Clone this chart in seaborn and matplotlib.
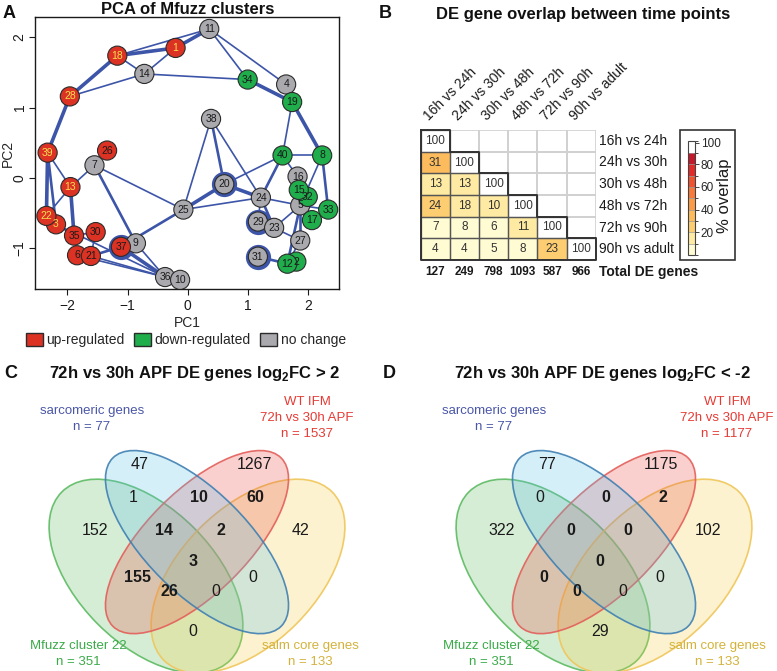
"""
plot.py - Panel gabungan: PCA cluster Mfuzz, overlap DE gene antar time point,
dan dua diagram Venn 4 set (log2FC > 2 dan log2FC < -2).
"""

import numpy as np
import pandas as pd
import matplotlib
matplotlib.use("Agg")
import matplotlib.pyplot as plt
import seaborn as sns
from matplotlib.colors import ListedColormap, BoundaryNorm, to_rgba
from matplotlib.patches import Ellipse, Patch, Rectangle

W, H = 777, 671

# ---------------- Data panel A (PCA cluster Mfuzz) ----------------
CLUSTER_ID = list(range(1, 41))
PC1 = [-0.20, 1.81, -2.19, 1.64, 1.875, -1.84, -1.55, 2.24, -0.86, -0.125,
       0.36, 1.66, -1.95, -0.72, 1.85, 1.83, 2.07, -1.17, 1.74, 0.61,
       -1.61, -2.35, 1.44, 1.22, -0.07, -1.34, 1.875, -1.96, 1.17, -1.53,
       1.17, 2.00, 2.34, 1.00, -1.89, -0.375, -1.11, 0.39, -2.33, 1.58]
PC2 = [1.85, -1.19, -0.66, 1.33, -0.39, -1.10, 0.18, 0.32, -0.93, -1.45,
       2.12, -1.22, -0.13, 1.48, -0.17, 0.02, -0.60, 1.74, 1.08, -0.09,
       -1.11, -0.54, -0.71, -0.28, -0.45, 0.39, -0.89, 1.16, -0.62, -0.77,
       -1.12, -0.27, -0.45, 1.40, -0.82, -1.41, -0.98, 0.84, 0.36, 0.32]
UP = [1, 3, 6, 13, 18, 21, 22, 26, 28, 30, 35, 37, 39]
DOWN = [2, 8, 12, 15, 17, 19, 32, 33, 34, 40]
# edge network: (cluster a, cluster b, bobot)
EDGES = [(18, 1, 3), (18, 11, 1), (1, 11, 3), (18, 14, 1), (14, 1, 1), (28, 18, 3),
         (28, 14, 1), (14, 34, 1), (11, 34, 1), (11, 4, 1), (4, 19, 1), (34, 19, 3),
         (19, 40, 1), (19, 8, 3), (40, 8, 1), (8, 5, 1), (8, 33, 2), (40, 24, 2),
         (40, 20, 1), (40, 16, 1), (38, 20, 2), (38, 25, 1), (38, 24, 1), (20, 25, 3),
         (20, 24, 3), (25, 24, 1), (24, 5, 1), (24, 23, 2), (24, 29, 1), (29, 23, 3),
         (23, 5, 1), (23, 27, 1), (5, 27, 2), (27, 12, 1), (5, 12, 2), (31, 12, 2),
         (17, 5, 1), (5, 33, 1), (16, 5, 1), (15, 5, 1), (32, 5, 1), (15, 17, 1),
         (39, 28, 3), (39, 22, 3), (39, 13, 1), (39, 3, 2), (13, 7, 1), (13, 22, 1),
         (13, 35, 3), (7, 25, 1), (7, 9, 2), (25, 37, 2), (22, 3, 3), (22, 35, 1),
         (3, 35, 1), (35, 30, 1), (35, 6, 1), (6, 21, 3), (21, 37, 2), (6, 36, 1),
         (21, 36, 1), (37, 9, 3), (9, 36, 1), (36, 10, 1), (37, 36, 3), (30, 21, 1),
         (3, 36, 1)]

# ---------------- Data panel B (overlap DE gene) ----------------
COMPARISONS = ["16h vs 24h", "24h vs 30h", "30h vs 48h",
               "48h vs 72h", "72h vs 90h", "90h vs adult"]
OVERLAP = [[100],
           [31, 100],
           [13, 13, 100],
           [24, 18, 10, 100],
           [7, 8, 6, 11, 100],
           [4, 4, 5, 8, 23, 100]]
TOTAL_DE = [127, 249, 798, 1093, 587, 966]

# ---------------- Data panel C & D (Venn) ----------------
REGIONS = ["b", "r", "gb", "br", "ry", "g", "gbr", "bry", "y",
           "gbry", "gr", "by", "gry", "gby", "gy"]
COUNTS_UP = [47, 1267, 1, 10, 60, 152, 14, 2, 42, 3, 155, 0, 26, 0, 0]
COUNTS_DOWN = [77, 1175, 0, 0, 2, 322, 0, 0, 102, 0, 0, 0, 0, 0, 29]
SIZES_UP = [77, 1537, 351, 133]
SIZES_DOWN = [77, 1177, 351, 133]

# ---------------- Style ----------------
NODE_COLORS = {"up": "#dc3223", "down": "#1fae4b", "none": "#a9a9ae"}
LINE_BLUE = "#3d55a8"
YELLOW_TEXT = [1, 3, 13, 18, 22, 28, 39]
RINGED = [20, 29, 31, 37]
ON_TOP = [10, 15, 23]
BAND_COLORS = ["#fffbd2", "#feeaa2", "#fdcd72", "#fcbc5e", "#fb9b48",
               "#f77a3a", "#f0532f", "#e32a2a", "#c4182b", "#ffffff"]
# posisi label region Venn (koordinat unit diagram)
REGION_POS = {"b": (0.332, 0.797), "r": (0.668, 0.797), "gb": (0.312, 0.700),
              "br": (0.505, 0.700), "ry": (0.672, 0.700), "g": (0.200, 0.603),
              "gbr": (0.403, 0.603), "bry": (0.571, 0.603), "y": (0.805, 0.603),
              "gbry": (0.487, 0.514), "gr": (0.324, 0.467), "by": (0.665, 0.467),
              "gry": (0.420, 0.426), "gby": (0.556, 0.426), "gy": (0.488, 0.306)}
# (cx, cy, a, b, sudut, fill, edge)
ELLIPSES = [(0.35, 0.47, 0.35, 0.20, -45, "#5bb85a", "#5dbb63"),
            (0.65, 0.47, 0.35, 0.20, 45, "#f5cf40", "#efc65a"),
            (0.50, 0.57, 0.35, 0.15, 45, "#e8473f", "#e35f5a"),
            (0.50, 0.57, 0.35, 0.15, -45, "#5bc0eb", "#3f7fb2")]
SET_COLORS = ["#4a57a8", "#e63b35", "#3aaa48", "#d4b23a"]


def px_axes(fig, x0, y0, x1, y1):
    return fig.add_axes([x0 / W, 1 - y1 / H, (x1 - x0) / W, (y1 - y0) / H])


def fig_text(fig, px, py, s, **kw):
    return fig.text(px / W, 1 - py / H, s, ha=kw.pop("ha", "center"),
                    va=kw.pop("va", "center"), **kw)


def plot_pca(fig):
    ax = px_axes(fig, 35, 17, 339, 289)
    status = ["up" if c in UP else "down" if c in DOWN else "none" for c in CLUSTER_ID]
    df = pd.DataFrame({"cluster": CLUSTER_ID, "PC1": PC1, "PC2": PC2, "status": status})
    pos = df.set_index("cluster")

    for a, b, w in EDGES:
        ax.plot([pos.loc[a, "PC1"], pos.loc[b, "PC1"]], [pos.loc[a, "PC2"], pos.loc[b, "PC2"]],
                color=LINE_BLUE, lw=0.5 + 0.7 * w, solid_capstyle="round", zorder=1)

    sns.scatterplot(data=df[df["cluster"].isin(RINGED)], x="PC1", y="PC2", s=330,
                    color=LINE_BLUE, linewidth=0, legend=False, zorder=2, ax=ax)
    rank = df["cluster"].map(lambda c: c + 100 if c in ON_TOP else c)
    df_draw = df.assign(rank=rank).sort_values("rank")
    sns.scatterplot(data=df_draw, x="PC1", y="PC2", hue="status", palette=NODE_COLORS,
                    s=190, edgecolor="#2b2b2b", linewidth=0.8, legend=False, zorder=3, ax=ax)
    for _, r in df_draw.iterrows():
        ax.text(r["PC1"], r["PC2"], str(r["cluster"]), ha="center", va="center",
                fontsize=7.5, zorder=4,
                color="#f5e050" if r["cluster"] in YELLOW_TEXT else "#1a1a1a")

    ax.set_xlim(-2.54, 2.52)
    ax.set_ylim(-1.58, 2.29)
    ax.set_xticks([-2, -1, 0, 1, 2])
    ax.set_yticks([-1, 0, 1, 2])
    ax.set_yticklabels(["\u22121", "0", "1", "2"], rotation=90, va="center")
    ax.tick_params(bottom=True, left=True, direction="out", length=4, width=0.8,
                   labelsize=10, colors="#1a1a1a")
    ax.tick_params(axis="y", pad=2)
    ax.set_xlabel("PC1", fontsize=10, labelpad=2)
    ax.set_ylabel("PC2", fontsize=10)
    ax.yaxis.set_label_coords(-0.066, 0.5)
    for sp in ax.spines.values():
        sp.set_visible(True)
        sp.set_color("#1a1a1a")
        sp.set_linewidth(1.0)

    handles = [Patch(facecolor=NODE_COLORS[k], edgecolor="#2b2b2b", label=lab)
               for k, lab in [("up", "up-regulated"), ("down", "down-regulated"),
                              ("none", "no change")]]
    fig.legend(handles=handles, loc="center", bbox_to_anchor=(186 / W, 1 - 340 / H),
               ncol=3, frameon=False, fontsize=10, handlelength=1.2, handleheight=1.1,
               handletextpad=0.25, columnspacing=0.7, borderaxespad=0, borderpad=0)


def plot_overlap(fig):
    axh = px_axes(fig, 420.7, 130, 595.7, 260)
    axc = px_axes(fig, 687.7, 141.5, 695, 255)
    mat = np.full((6, 6), np.nan)
    for i, row in enumerate(OVERLAP):
        mat[i, :len(row)] = row
    df = pd.DataFrame(mat, index=COMPARISONS, columns=COMPARISONS)

    cmap = ListedColormap(BAND_COLORS)
    norm = BoundaryNorm(list(range(0, 100, 10)) + [101], cmap.N)
    sns.heatmap(df, ax=axh, cmap=cmap, norm=norm, mask=np.isnan(mat), annot=True, fmt=".0f",
                annot_kws={"fontsize": 8.5, "color": "#333333"}, linewidths=0,
                xticklabels=False, yticklabels=False,
                cbar_ax=axc, cbar_kws={"drawedges": True, "ticks": [20, 40, 60, 80, 100]})
    axh.set_xlabel("")
    axh.set_ylabel("")
    # garis sel: abu-abu untuk segitiga atas, gelap untuk segitiga bawah
    n = len(COMPARISONS)
    for i in range(n):
        for j in range(n):
            if j > i:
                axh.add_patch(Rectangle((j, i), 1, 1, fill=False, lw=1.2,
                                        edgecolor="#d0d0d0", zorder=2))
    for i in range(n):
        for j in range(i + 1):
            axh.add_patch(Rectangle((j, i), 1, 1, fill=False, lw=0.9,
                                    edgecolor="#555555", zorder=3))
    xs = [0, 1, 1, 2, 2, 3, 3, 4, 4, 5, 5, 6, 6, 0, 0]
    ys = [0, 0, 1, 1, 2, 2, 3, 3, 4, 4, 5, 5, 6, 6, 0]
    axh.plot(xs, ys, color="#333333", lw=1.4, zorder=5, clip_on=False)

    for j, lab in enumerate(COMPARISONS):
        axh.text(j + 0.36, -0.32, lab, rotation=45, rotation_mode="anchor",
                 ha="left", va="bottom", fontsize=10, color="#1a1a1a")
        axh.text(6.12, j + 0.5, lab, ha="left", va="center", fontsize=10, color="#1a1a1a")
        axh.text(j + 0.5, 6.54, str(TOTAL_DE[j]), ha="center", va="center",
                 fontsize=8.5, fontweight="bold", color="#1a1a1a")
    axh.text(6.12, 6.54, "Total DE genes", ha="left", va="center", fontsize=10,
             fontweight="bold", color="#1a1a1a")

    cbar = axh.collections[0].colorbar
    cbar.outline.set_linewidth(0.8)
    cbar.outline.set_edgecolor("#444444")
    cbar.dividers.set_color("#999999")
    cbar.dividers.set_linewidth(0.5)
    cbar.ax.tick_params(length=3, width=0.6, labelsize=8.5, pad=1)
    fig_text(fig, 724, 196, "% overlap", fontsize=12, rotation=90, color="#1a1a1a")
    fig.add_artist(Rectangle((680 / W, 1 - 260 / H), 55 / W, 130 / H, transform=fig.transFigure,
                             fill=False, lw=1.2, edgecolor="#333333"))


def plot_venn(fig, x_px0, x_px1, x_origin, counts, sizes, label_pos):
    ax = px_axes(fig, x_px0, 381, x_px1, 671)
    for cx, cy, a, b, ang, face, edge in ELLIPSES:
        ax.add_patch(Ellipse((cx, cy), 2 * a, 2 * b, angle=ang, facecolor=to_rgba(face, 0.25),
                             edgecolor=to_rgba(edge, 0.9), lw=1.2))
    for reg, n in zip(REGIONS, counts):
        u, v = REGION_POS[reg]
        bold = "r" in reg and len(reg) > 1
        ax.text(u, v, str(n), ha="center", va="center", fontsize=11.5,
                fontweight="bold" if bold else "normal", color="#1a1a1a")
    ax.set_xlim((x_px0 - x_origin) / 340, (x_px1 - x_origin) / 340)
    ax.set_ylim(0.185 + 2 / 340, 0.185 + 292 / 340)
    ax.axis("off")

    texts = [f"sarcomeric genes\nn = {sizes[0]}", f"WT IFM\n72h vs 30h APF\nn = {sizes[1]}",
             f"Mfuzz cluster 22\nn = {sizes[2]}", f"salm core genes\nn = {sizes[3]}"]
    for s, (px, py), col in zip(texts, label_pos, SET_COLORS):
        fig_text(fig, px, py, s, fontsize=9.5, color=col, linespacing=1.4)


def main():
    sns.set_style("white")
    plt.rcParams["font.family"] = ["Liberation Sans", "DejaVu Sans"]
    plt.rcParams["mathtext.fontset"] = "custom"
    plt.rcParams["mathtext.rm"] = "Liberation Sans"
    plt.rcParams["mathtext.bf"] = "Liberation Sans:bold"

    fig = plt.figure(figsize=(W / 100, H / 100), dpi=100)

    plot_pca(fig)
    plot_overlap(fig)
    plot_venn(fig, 0, 390, 27, COUNTS_UP, SIZES_UP,
              [(92, 419), (307, 418), (78, 654), (310, 654)])
    plot_venn(fig, 390, 777, 434, COUNTS_DOWN, SIZES_DOWN,
              [(494, 419), (727, 418), (491, 654), (717, 654)])

    title_kw = dict(fontsize=12, fontweight="bold", color="#111111")
    fig_text(fig, 188, 9, "PCA of Mfuzz clusters", **title_kw)
    fig_text(fig, 583, 14, "DE gene overlap between time points", **title_kw)
    fig_text(fig, 195, 374, r"72h vs 30h APF DE genes log$_\mathbf{2}$FC > 2", **title_kw)
    fig_text(fig, 602, 374, r"72h vs 30h APF DE genes log$_\mathbf{2}$FC < -2", **title_kw)
    for lab, px, py in [("A", 9, 14), ("B", 385, 13), ("C", 11, 373), ("D", 389, 373)]:
        fig_text(fig, px, py, lab, fontsize=13, fontweight="bold", color="#111111")

    fig.savefig("out.png", dpi=100)
    plt.close(fig)


if __name__ == "__main__":
    main()
